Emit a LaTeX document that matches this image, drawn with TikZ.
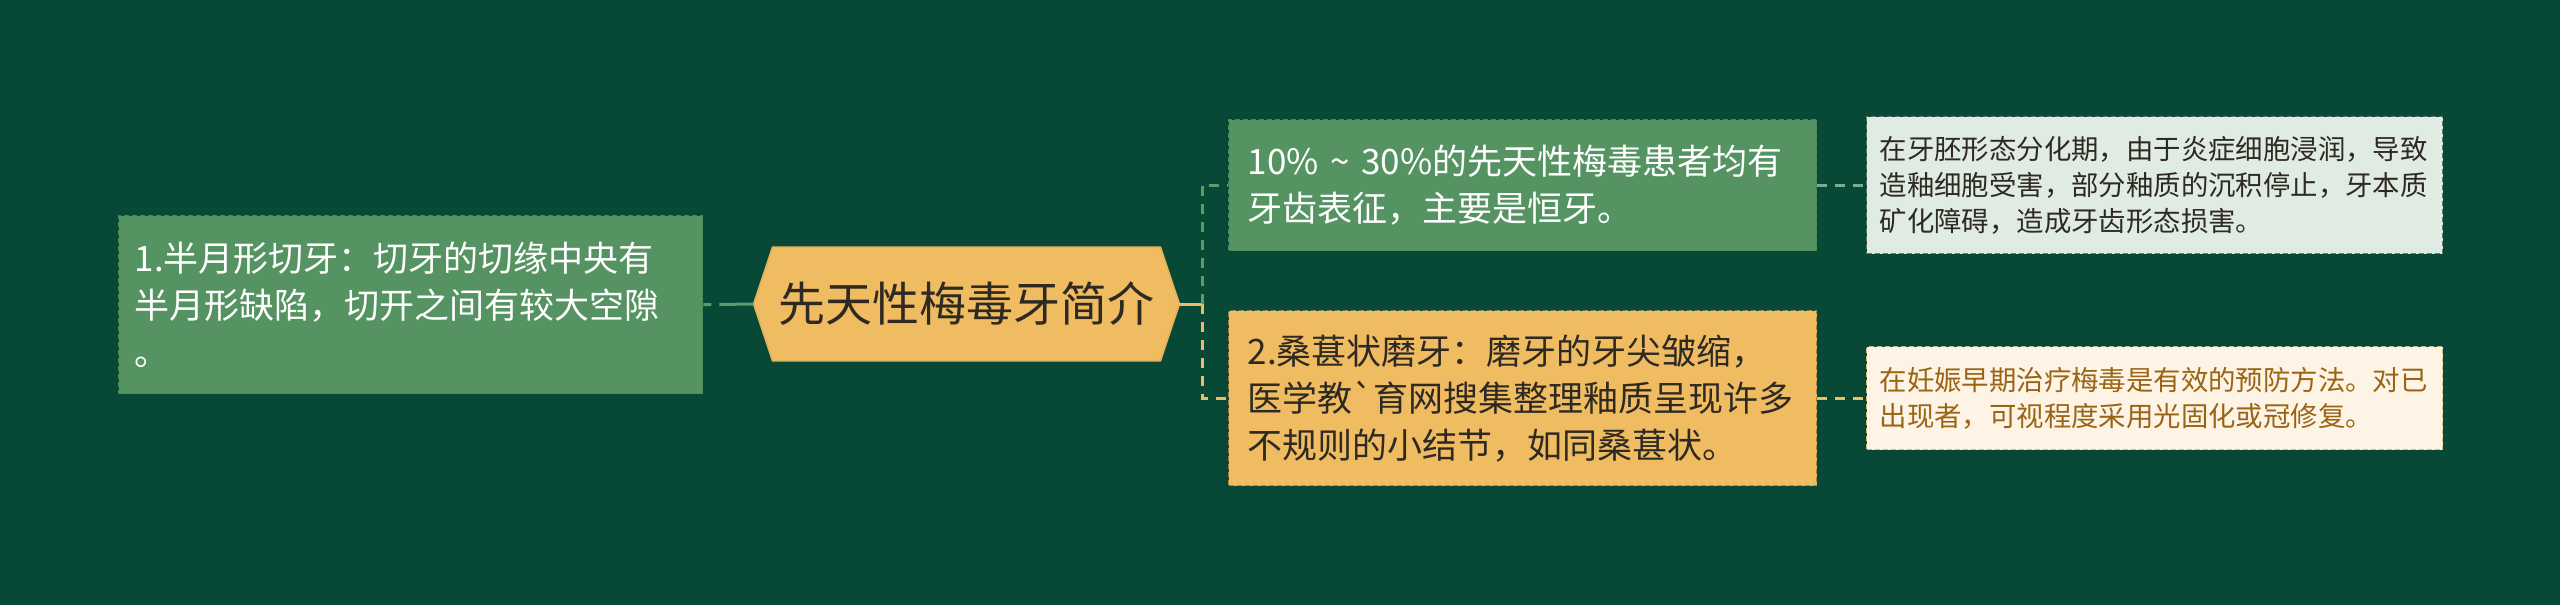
\documentclass[tikz,border=0pt]{standalone}
\usepackage{fontspec}
\setmainfont{Noto Sans CJK SC}[Ligatures=TeXOff]
\usetikzlibrary{backgrounds}
\definecolor{bg}{HTML}{074836}
\definecolor{gfill}{HTML}{559462}
\definecolor{gline}{HTML}{4A8757}
\definecolor{yfill}{HTML}{F0BC62}
\definecolor{yline}{HTML}{A88540}
\definecolor{hexline}{HTML}{E6B35A}
\definecolor{lgfill}{HTML}{DFEBE3}
\definecolor{lgline}{HTML}{5E7D6B}
\definecolor{crfill}{HTML}{FDF4E6}
\definecolor{crline}{HTML}{D9B77E}
\definecolor{browntext}{HTML}{9A6414}
\definecolor{darktext}{HTML}{2E2A22}
\definecolor{conngreen}{HTML}{5C9C68}
\definecolor{connyellow}{HTML}{F0BC62}
\definecolor{connlight}{HTML}{7FAA8C}
\begin{document}
\begin{tikzpicture}[x=0.5pt,y=-0.5pt,
  box/.style={rectangle, dashed, dash pattern=on 2.5pt off 1.5pt, line width=0.7pt, align=left, inner ysep=0pt, anchor=north west},
  bigtext/.style={font=\fontsize{17.5pt}{23.5pt}\selectfont},
  smalltext/.style={font=\fontsize{13.7pt}{18pt}\selectfont},
  greenbox/.style={box, bigtext, fill=gfill, draw=gline, text=white},
  yellowbox/.style={box, bigtext, fill=yfill, draw=yline, text=darktext},
  lgbox/.style={box, smalltext, fill=lgfill, draw=lgline, text=darktext},
  crbox/.style={box, smalltext, fill=crfill, draw=crline, text=browntext},
  connline/.style={line width=1.5pt},
  dashconn/.style={line width=1.5pt, dash pattern=on 5pt off 4pt},
]
\useasboundingbox (0,0) rectangle (2560,605);

% left box
\node[greenbox, inner xsep=8pt, text width=276pt, minimum height=89pt] (left) at (118,215)
  {1.半月形切牙：切牙的切缘中央有\\半月形缺陷，切开之间有较大空隙\\。};

% center
\node[minimum width=212.5pt, minimum height=56.5pt, inner sep=0pt, text=darktext,
  font=\fontsize{23.5pt}{28pt}\selectfont] (center) at (966.5,304) {先天性梅毒牙简介};

% middle boxes
\node[greenbox, inner xsep=9.5pt, text width=275pt, minimum height=65.5pt] (mt) at (1228,119)
  {10\% \textasciitilde{} 30\%的先天性梅毒患者均有\\牙齿表征，主要是恒牙。};
\node[yellowbox, inner xsep=9.5pt, text width=275pt, minimum height=87.5pt] (mb) at (1228,310)
  {2.桑葚状磨牙：磨牙的牙尖皱缩，\\医学教`育网搜集整理釉质呈现许多\\不规则的小结节，如同桑葚状。};

% right boxes
\node[lgbox, inner xsep=6.5pt, text width=275pt, minimum height=68.5pt] (rt) at (1866,116)
  {在牙胚形态分化期，由于炎症细胞浸润，导致\\造釉细胞受害，部分釉质的沉积停止，牙本质\\矿化障碍，造成牙齿形态损害。};
\node[crbox, inner xsep=6.5pt, text width=275pt, minimum height=51.5pt] (rb) at (1866,346)
  {在妊娠早期治疗梅毒是有效的预防方法。对已\\出现者，可视程度采用光固化或冠修复。};

\begin{scope}[on background layer]
  \fill[bg] (0,0) rectangle (2560,605);
  \filldraw[fill=yfill, draw=hexline, line width=0.8pt]
    (center.west) -- ([xshift=9.5pt]center.north west) -- ([xshift=-9.5pt]center.north east)
    -- (center.east) -- ([xshift=-9.5pt]center.south east) -- ([xshift=9.5pt]center.south west) -- cycle;
\end{scope}

% connectors
\coordinate (J) at (1202,304);
\draw[connline, conngreen, dash pattern=on 4pt off 4pt on 100pt off 0pt] (left.east) -- (center.west);
\draw[connline, connyellow] (center.east) -- (J);
\draw[dashconn, conngreen] (J) |- (mt.west);
\draw[dashconn, connyellow] (J) |- (mb.west);
\draw[dashconn, connlight] (mt.east) -- (rt.west);
\draw[dashconn, connyellow] (mb.east) -- (rb.west);
\end{tikzpicture}
\end{document}
